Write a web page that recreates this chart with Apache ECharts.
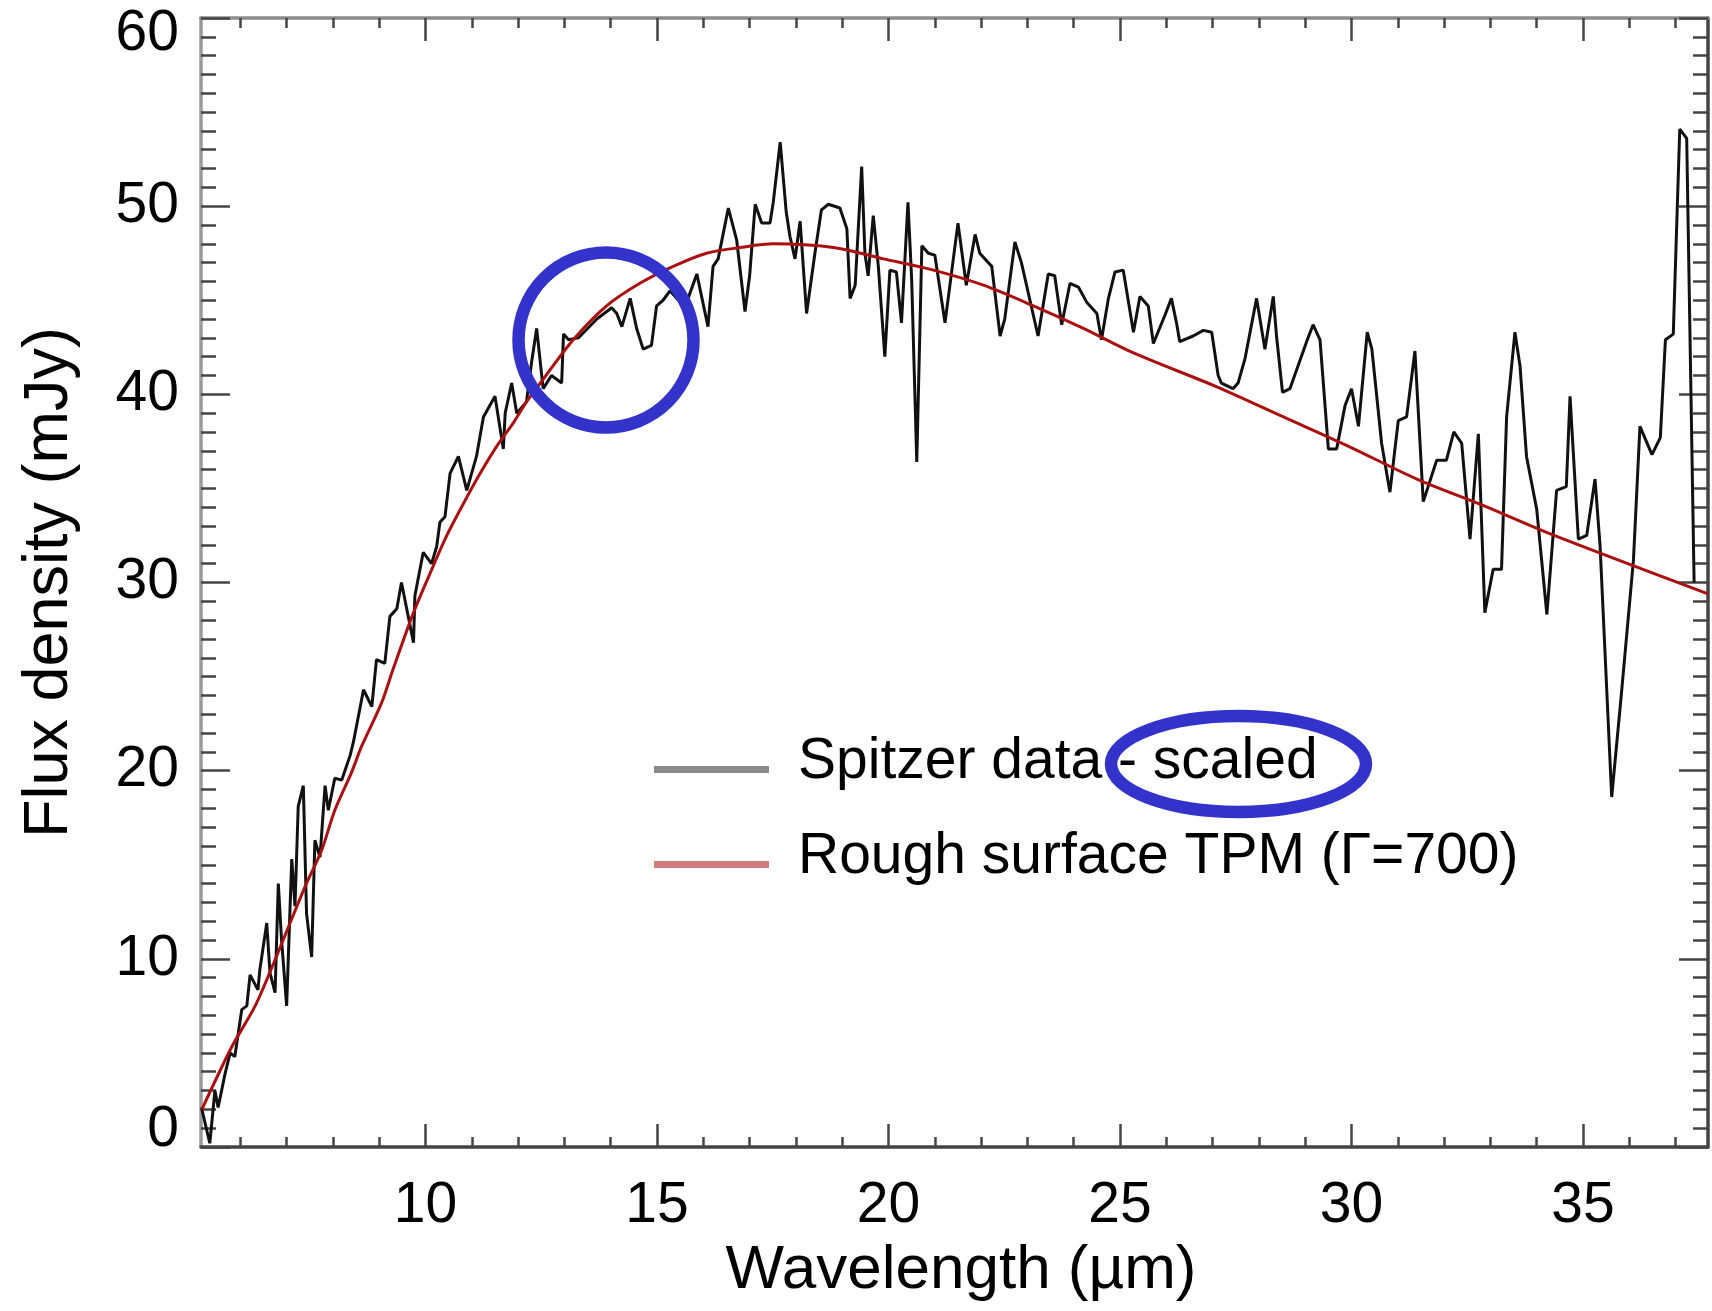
<!DOCTYPE html>
<html>
<head>
<meta charset="utf-8">
<script src="https://cdn.jsdelivr.net/npm/echarts@6/dist/echarts.min.js"></script>
<style>
html,body{margin:0;padding:0;background:#fff;}
#chart{width:1712px;height:1311px;}
</style>
</head>
<body>
<div id="chart"></div>
<script>
// ---- Data ----
const specWavelength = [5.16,5.34,5.45,5.52,5.67,5.78,5.88,6.03,6.14,6.21,
  6.38,6.42,6.57,6.64,6.75,6.82,6.89,7.0,7.11,7.18,
  7.25,7.36,7.43,7.54,7.61,7.72,7.83,7.9,8.04,8.19,
  8.37,8.44,8.66,8.84,8.94,9.12,9.23,9.38,9.48,9.74,
  9.77,9.95,10.13,10.24,10.31,10.42,10.53,10.71,10.89,11.1,
  11.25,11.5,11.68,11.72,11.86,11.97,12.18,12.29,12.4,12.47,
  12.54,12.72,12.94,12.98,13.09,13.3,13.5,13.7,14.02,14.13,
  14.24,14.42,14.56,14.7,14.88,14.99,15.13,15.28,15.5,15.67,
  15.86,16.1,16.21,16.32,16.54,16.72,16.9,17.0,17.12,17.26,
  17.44,17.51,17.66,17.79,17.87,17.98,18.09,18.23,18.41,18.55,
  18.7,18.95,19.1,19.17,19.28,19.42,19.49,19.56,19.67,19.78,
  19.92,20.03,20.17,20.28,20.42,20.5,20.61,20.72,20.86,21.0,
  21.22,21.5,21.68,21.87,21.97,22.23,22.41,22.51,22.73,22.87,
  23.23,23.45,23.59,23.74,23.92,24.1,24.28,24.5,24.6,24.75,
  24.89,25.07,25.29,25.43,25.61,25.72,25.97,26.11,26.22,26.29,
  26.58,26.8,26.98,27.12,27.19,27.44,27.55,27.7,27.95,28.13,
  28.31,28.38,28.51,28.67,29.03,29.17,29.32,29.5,29.68,29.86,
  30.0,30.15,30.34,30.44,30.65,30.83,31.01,31.19,31.37,31.55,
  31.84,32.05,32.21,32.38,32.56,32.74,32.88,33.06,33.24,33.35,
  33.53,33.64,33.78,34.0,34.22,34.43,34.64,34.72,34.9,35.08,
  35.26,35.37,35.62,35.83,35.98,36.09,36.23,36.49,36.67,36.78,
  36.95,37.09,37.24,37.4];
const specFlux = [2.1,0.2,3.0,2.1,3.9,5.0,4.8,7.3,7.5,9.15,
  8.35,9.4,11.9,9.25,8.2,14.0,11.0,7.5,15.3,12.8,
  18.1,19.2,12.4,10.1,16.3,15.4,19.2,17.9,19.6,19.5,
  20.8,21.5,24.3,23.4,25.9,25.7,28.2,28.6,30.0,26.8,
  29.3,31.6,31.0,31.9,33.2,33.5,35.8,36.7,34.9,36.7,
  38.8,39.9,37.1,39.0,40.6,39.0,39.6,41.7,43.5,41.9,
  40.3,41.0,40.6,43.2,42.9,43.0,43.5,44.0,44.6,44.3,
  43.6,45.1,43.5,42.4,42.6,44.7,45.0,45.5,44.9,45.1,
  46.4,43.6,46.8,47.2,49.9,48.2,44.4,46.3,50.1,49.1,
  49.1,50.2,53.4,49.7,48.4,47.2,49.2,44.3,47.5,49.8,
  50.1,49.9,48.8,45.1,45.8,52.1,47.5,46.3,49.5,46.8,
  42.0,46.6,46.5,43.8,50.2,46.1,36.4,47.9,47.5,47.4,
  43.8,49.1,45.8,48.5,47.5,46.8,43.1,44.0,48.1,47.0,
  43.1,46.4,46.3,43.7,45.9,45.7,44.9,44.3,42.9,45.1,
  46.5,46.6,43.3,45.2,44.7,42.7,44.2,45.1,43.8,42.8,
  43.1,43.4,43.3,41.0,40.6,40.3,40.6,41.9,45.1,42.4,
  45.2,43.1,40.1,40.3,42.8,43.7,42.9,37.1,37.1,39.4,
  40.3,38.3,43.3,42.4,37.4,34.8,38.6,38.8,42.3,34.3,
  36.5,36.5,38.0,37.4,32.3,37.9,28.4,30.7,30.7,38.8,
  43.3,41.5,36.7,33.9,28.3,34.9,35.1,39.9,32.3,32.5,
  35.5,31.9,18.6,24.1,28.2,31.2,38.3,36.8,37.7,42.9,
  43.2,54.1,53.6,30.0];

const modelWavelength = [5.17,5.81,6.32,6.75,7.04,7.4,7.76,8.04,8.4,8.62,
  9.05,9.3,9.74,10.1,10.46,10.82,11.18,11.54,11.9,12.18,
  12.54,13.19,13.91,14.63,15.35,16.07,16.79,17.51,18.81,19.89,
  20.97,22.05,23.13,24.21,25.29,27.09,28.53,29.97,31.41,32.84,
  34.28,37.7];
const modelFlux = [2.0,5.3,7.5,9.95,11.7,13.85,15.8,17.9,19.9,21.3,
  23.6,25.4,28.4,30.5,32.5,34.2,35.8,37.25,38.5,39.6,
  40.8,42.9,44.7,45.9,46.8,47.5,47.8,48.0,47.8,47.2,
  46.6,45.8,44.7,43.5,42.2,40.4,38.8,37.2,35.5,34.1,
  32.6,29.4];

const xMajorTicks = [10,15,20,25,30,35];
const xMinorTicks = [6,7,8,9,11,12,13,14,16,17,18,19,21,22,23,24,26,27,28,29,31,32,33,34,36,37];
const seriesNames = ['Spitzer data - scaled', 'Rough surface TPM (\u0393=700)'];
const xTitle = 'Wavelength (\u00b5m)';
const yTitle = 'Flux density (mJy)';

// ---- Chart ----
const FONT = "'Liberation Sans', Arial, Helvetica, sans-serif";
const X_MIN = 5.15, X_MAX = 37.7;

const chart = echarts.init(document.getElementById('chart'), null, {renderer: 'canvas'});

function xAxisDef(position, ticks, len, showLine, lineColor, labels) {
  return {
    type: 'value', position: position, min: X_MIN, max: X_MAX,
    splitLine: {show: false},
    axisLine: {show: showLine, onZero: false, lineStyle: {color: lineColor, width: 3.5}},
    axisTick: {show: true, inside: true, length: len, customValues: ticks,
               lineStyle: {color: '#444', width: 2.5}},
    axisLabel: labels ? {show: true, customValues: ticks, fontSize: 57, fontFamily: FONT,
               color: '#000', margin: 31, lineHeight: 57} : {show: false},
  };
}

const mainX = xAxisDef('bottom', xMajorTicks, 23, true, '#444', true);
mainX.name = xTitle;
mainX.nameLocation = 'middle';
mainX.nameGap = 93;
mainX.nameTextStyle = {fontSize: 62, fontFamily: FONT, color: '#000', lineHeight: 62, padding: [0, 0, 0, 13]};

function yAxisDef(position, labels) {
  const a = {
    type: 'value', position: position, min: 0, max: 60, interval: 10,
    splitLine: {show: false},
    axisLine: {show: true, onZero: false, lineStyle: {color: position === 'left' ? '#9a9a9a' : '#444', width: 3.5}},
    axisTick: {show: true, inside: true, length: 29, lineStyle: {color: '#444', width: 2.5}},
    minorTick: {show: true, splitNumber: 10, length: 15, lineStyle: {color: '#444', width: 2.5}},
    axisLabel: labels ? {show: true, fontSize: 57, fontFamily: FONT, color: '#000', margin: 22,
                lineHeight: 33, verticalAlignMaxLabel: 'top', verticalAlignMinLabel: 'bottom'} : {show: false},
  };
  if (labels) {
    a.name = yTitle;
    a.nameLocation = 'middle';
    a.nameGap = 120;
    a.nameTextStyle = {fontSize: 63, fontFamily: FONT, color: '#000', lineHeight: 63};
  }
  return a;
}

const specData = specWavelength.map((w, i) => [w, specFlux[i]]);
const modelData = modelWavelength.map((w, i) => [w, modelFlux[i]]);

const iconPath = 'path://M0 0H139V0.02H0Z M0 15H115V22H0Z';

chart.setOption({
  animation: false,
  backgroundColor: '#fff',
  grid: {left: 201, right: 4, top: 18, bottom: 164, containLabel: false},
  xAxis: [
    mainX,
    xAxisDef('bottom', xMinorTicks, 10, false, '#444', false),
    xAxisDef('top', xMajorTicks, 23, true, '#8c8c8c', false),
    xAxisDef('top', xMinorTicks, 10, false, '#8c8c8c', false)
  ],
  yAxis: [yAxisDef('left', true), yAxisDef('right', false)],
  legend: {
    orient: 'vertical', left: 654, top: 733, padding: 0,
    itemGap: 37, itemWidth: 139, itemHeight: 22,
    selectedMode: false,
    textStyle: {fontSize: 57, fontFamily: FONT, color: '#000', lineHeight: 58},
    data: [
      {name: seriesNames[0], icon: iconPath, itemStyle: {color: '#8a8a8a', borderWidth: 0}},
      {name: seriesNames[1], icon: iconPath, itemStyle: {color: '#d27d7d', borderWidth: 0}}
    ]
  },
  series: [
    {
      type: 'line', name: seriesNames[0], xAxisIndex: 0, yAxisIndex: 0,
      data: specData, symbol: 'none', silent: true,
      lineStyle: {color: '#111111', width: 3},
      itemStyle: {color: '#8a8a8a'},
      z: 2
    },
    {
      type: 'line', name: seriesNames[1], xAxisIndex: 0, yAxisIndex: 0,
      data: modelData, symbol: 'none', silent: true, smooth: 0.3,
      lineStyle: {color: '#aa1010', width: 3},
      itemStyle: {color: '#d27d7d'},
      z: 3
    }
  ],
  graphic: [
    {type: 'circle', z: 100, silent: true,
     shape: {cx: 606, cy: 340, r: 87.5},
     style: {fill: 'none', stroke: '#3333cc', lineWidth: 12.5}},
    {type: 'ellipse', z: 100, silent: true,
     shape: {cx: 1238.5, cy: 764, rx: 127.5, ry: 48},
     style: {fill: 'none', stroke: '#3333cc', lineWidth: 12.5}}
  ]
});
</script>
</body>
</html>
